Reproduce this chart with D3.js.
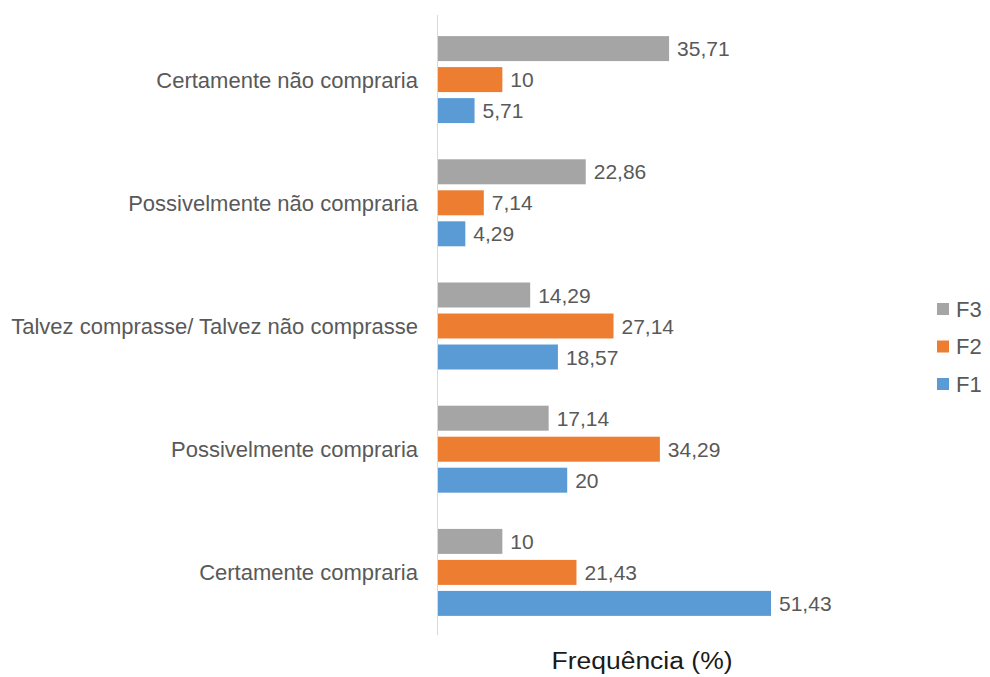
<!DOCTYPE html>
<html>
<head>
<meta charset="utf-8">
<script src="https://cdn.jsdelivr.net/npm/d3@7"></script>
<style>
  body { margin: 0; background: #fff; }
  text { font-family: "Liberation Sans", Arial, sans-serif; }
</style>
</head>
<body>
<div id="chart"></div>
<script>
// categories top to bottom
const categories = [
    "Certamente não compraria",
    "Possivelmente não compraria",
    "Talvez comprasse/ Talvez não comprasse",
    "Possivelmente compraria",
    "Certamente compraria"
];
const seriesNames = ["F3", "F2", "F1"];
const f3 = [35.71, 22.86, 14.29, 17.14, 10];
const f2 = [10, 7.14, 27.14, 34.29, 21.43];
const f1 = [5.71, 4.29, 18.57, 20, 51.43];
const valueLabels = {
    F3: ["35,71", "22,86", "14,29", "17,14", "10"],
    F2: ["10", "7,14", "27,14", "34,29", "21,43"],
    F1: ["5,71", "4,29", "18,57", "20", "51,43"]
};
const axisTitle = "Frequência (%)";

const colors = { F3: "#A5A5A5", F2: "#ED7D31", F1: "#5B9BD5" };
const seriesValues = { F3: f3, F2: f2, F1: f1 };

const W = 990, H = 677;
const svg = d3.select("#chart").append("svg")
    .attr("width", W)
    .attr("height", H);

const x = d3.scaleLinear()
    .domain([0, 60])
    .range([437.5, 437.5 + 6.485 * 60]);

const y = d3.scaleBand()
    .domain(categories)
    .range([18, 634])
    .padding(0);

// bars inside each group: 3 bars of ~25px, 31px pitch, centered in the band
const groupH = 93;
const yInner = d3.scaleBand()
    .domain(seriesNames)
    .range([(y.bandwidth() - groupH) / 2, (y.bandwidth() + groupH) / 2])
    .paddingInner(0.194)
    .paddingOuter(0.097);

const rows = [];
categories.forEach((c, i) => {
    seriesNames.forEach(s => {
        rows.push({ cat: c, series: s, value: seriesValues[s][i], label: valueLabels[s][i] });
    });
});

const g = svg.append("g");

g.selectAll("rect.bar")
    .data(rows)
    .enter().append("rect")
    .attr("class", "bar")
    .attr("x", x(0))
    .attr("y", d => y(d.cat) + yInner(d.series))
    .attr("width", d => x(d.value) - x(0))
    .attr("height", yInner.bandwidth())
    .attr("fill", d => colors[d.series]);

// value labels
g.selectAll("text.value")
    .data(rows)
    .enter().append("text")
    .attr("class", "value")
    .attr("x", d => x(d.value) + 8)
    .attr("y", d => y(d.cat) + yInner(d.series) + yInner.bandwidth() / 2)
    .attr("dy", "0.36em")
    .style("font-size", "21px")
    .style("fill", "#595959")
    .text(d => d.label);

// vertical axis line
svg.append("line")
    .attr("x1", x(0)).attr("x2", x(0))
    .attr("y1", 15).attr("y2", 635)
    .attr("stroke", "#D9D9D9")
    .attr("stroke-width", 1);

// category labels
svg.selectAll("text.cat")
    .data(categories)
    .enter().append("text")
    .attr("class", "cat")
    .attr("x", 418)
    .attr("y", d => y(d) + y.bandwidth() / 2)
    .attr("dy", "0.36em")
    .attr("text-anchor", "end")
    .style("font-size", "22px")
    .style("fill", "#595959")
    .text(d => d);

// axis title
svg.append("text")
    .attr("x", 642)
    .attr("y", 669)
    .attr("text-anchor", "middle")
    .attr("textLength", 181)
    .attr("lengthAdjust", "spacingAndGlyphs")
    .style("font-size", "23px")
    .style("fill", "#1a1a1a")
    .text(axisTitle);

// legend
const legend = svg.append("g")
    .attr("transform", "translate(937, 309)");

const item = legend.selectAll("g.item")
    .data(seriesNames)
    .enter().append("g")
    .attr("class", "item")
    .attr("transform", (d, i) => `translate(0, ${i * 37.5})`);

item.append("rect")
    .attr("x", 0)
    .attr("y", -6)
    .attr("width", 12)
    .attr("height", 12)
    .attr("fill", d => colors[d]);

item.append("text")
    .attr("x", 19)
    .attr("y", 0)
    .attr("dy", "0.36em")
    .style("font-size", "22px")
    .style("fill", "#595959")
    .text(d => d);
</script>
</body>
</html>
